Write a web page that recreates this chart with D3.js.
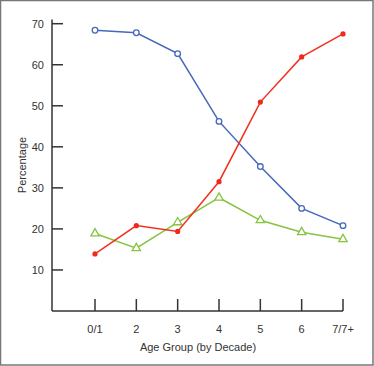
<!DOCTYPE html>
<html>
<head>
<meta charset="utf-8">
<script src="https://cdn.jsdelivr.net/npm/d3@7"></script>
<style>
  body { margin: 0; background: #fff; }
  svg text { font-family: "Liberation Sans", Arial, sans-serif; fill: #333; }
</style>
</head>
<body>
<div id="chart"></div>
<script>
// data
var ageGroups = ["0/1", "2", "3", "4", "5", "6", "7/7+"];
var blueSeries = [68.4, 67.8, 62.7, 46.2, 35.2, 25.0, 20.8];
var redSeries = [13.9, 20.8, 19.4, 31.5, 50.9, 61.9, 67.5];
var greenSeries = [18.9, 15.3, 21.6, 27.6, 22.1, 19.2, 17.5];
var yTicks = [10, 20, 30, 40, 50, 60, 70];

var svgWidth = 374;
var svgHeight = 366;

var svg = d3.select("#chart")
    .append("svg")
    .attr("width", svgWidth)
    .attr("height", svgHeight);

// frame round the picture
svg.append("rect")
    .attr("x", 0.5).attr("y", 0.5)
    .attr("width", svgWidth - 1.5).attr("height", svgHeight - 1.5)
    .attr("fill", "none")
    .attr("stroke", "#777")
    .attr("stroke-width", 1.5);

var axisLeftX = 52;
var axisBottomY = 311;

var x = d3.scalePoint()
    .domain(ageGroups)
    .range([95, 343]);

var y = d3.scaleLinear()
    .domain([0, 70])
    .range([axisBottomY, 23.7]);

// y axis line + ticks pointing right
svg.append("line")
    .attr("x1", axisLeftX).attr("x2", axisLeftX)
    .attr("y1", y(71)).attr("y2", axisBottomY)
    .attr("stroke", "#333").attr("stroke-width", 1.5);

svg.selectAll(".ytick")
    .data(yTicks)
    .enter().append("line")
    .attr("x1", axisLeftX).attr("x2", axisLeftX + 11)
    .attr("y1", d => y(d)).attr("y2", d => y(d))
    .attr("stroke", "#333").attr("stroke-width", 1.5);

svg.selectAll(".ylabel")
    .data(yTicks)
    .enter().append("text")
    .attr("x", 44)
    .attr("y", d => y(d))
    .attr("dy", "0.35em")
    .attr("text-anchor", "end")
    .style("font-size", "11px")
    .text(d => d);

// x axis line + ticks pointing up
svg.append("line")
    .attr("x1", axisLeftX).attr("x2", x("7/7+"))
    .attr("y1", axisBottomY).attr("y2", axisBottomY)
    .attr("stroke", "#333").attr("stroke-width", 1.5);

svg.selectAll(".xtick")
    .data(ageGroups)
    .enter().append("line")
    .attr("x1", d => x(d)).attr("x2", d => x(d))
    .attr("y1", axisBottomY).attr("y2", axisBottomY - 12)
    .attr("stroke", "#333").attr("stroke-width", 1.5);

svg.selectAll(".xlabel")
    .data(ageGroups)
    .enter().append("text")
    .attr("x", d => x(d))
    .attr("y", 329)
    .attr("dy", "0.35em")
    .attr("text-anchor", "middle")
    .style("font-size", "11px")
    .text(d => d);

// axis titles
svg.append("text")
    .attr("x", 198)
    .attr("y", 347)
    .attr("dy", "0.35em")
    .attr("text-anchor", "middle")
    .style("font-size", "11px")
    .text("Age Group (by Decade)");

svg.append("text")
    .attr("transform", "translate(22,165) rotate(-90)")
    .attr("dy", "0.35em")
    .attr("text-anchor", "middle")
    .style("font-size", "11px")
    .text("Percentage");

var line = d3.line()
    .x((d, i) => x(ageGroups[i]))
    .y(d => y(d));

// green series with triangles
svg.append("path")
    .datum(greenSeries)
    .attr("d", line)
    .attr("fill", "none")
    .attr("stroke", "#86c440")
    .attr("stroke-width", 1.5);

svg.selectAll(".tri")
    .data(greenSeries)
    .enter().append("path")
    .attr("d", d3.symbol().type(d3.symbolTriangle).size(30))
    .attr("transform", (d, i) => `translate(${x(ageGroups[i])},${y(d)})`)
    .attr("fill", "#fff")
    .attr("stroke", "#86c440")
    .attr("stroke-width", 1.3);

// blue series with open circles
svg.append("path")
    .datum(blueSeries)
    .attr("d", line)
    .attr("fill", "none")
    .attr("stroke", "#4468bc")
    .attr("stroke-width", 1.5);

svg.selectAll(".circ")
    .data(blueSeries)
    .enter().append("circle")
    .attr("cx", (d, i) => x(ageGroups[i]))
    .attr("cy", d => y(d))
    .attr("r", 2.8)
    .attr("fill", "#fff")
    .attr("stroke", "#4468bc")
    .attr("stroke-width", 1.3);

// red series with filled dots
svg.append("path")
    .datum(redSeries)
    .attr("d", line)
    .attr("fill", "none")
    .attr("stroke", "#f3301e")
    .attr("stroke-width", 1.5);

svg.selectAll(".dot")
    .data(redSeries)
    .enter().append("circle")
    .attr("cx", (d, i) => x(ageGroups[i]))
    .attr("cy", d => y(d))
    .attr("r", 2.6)
    .attr("fill", "#ee2a1c");
</script>
</body>
</html>
